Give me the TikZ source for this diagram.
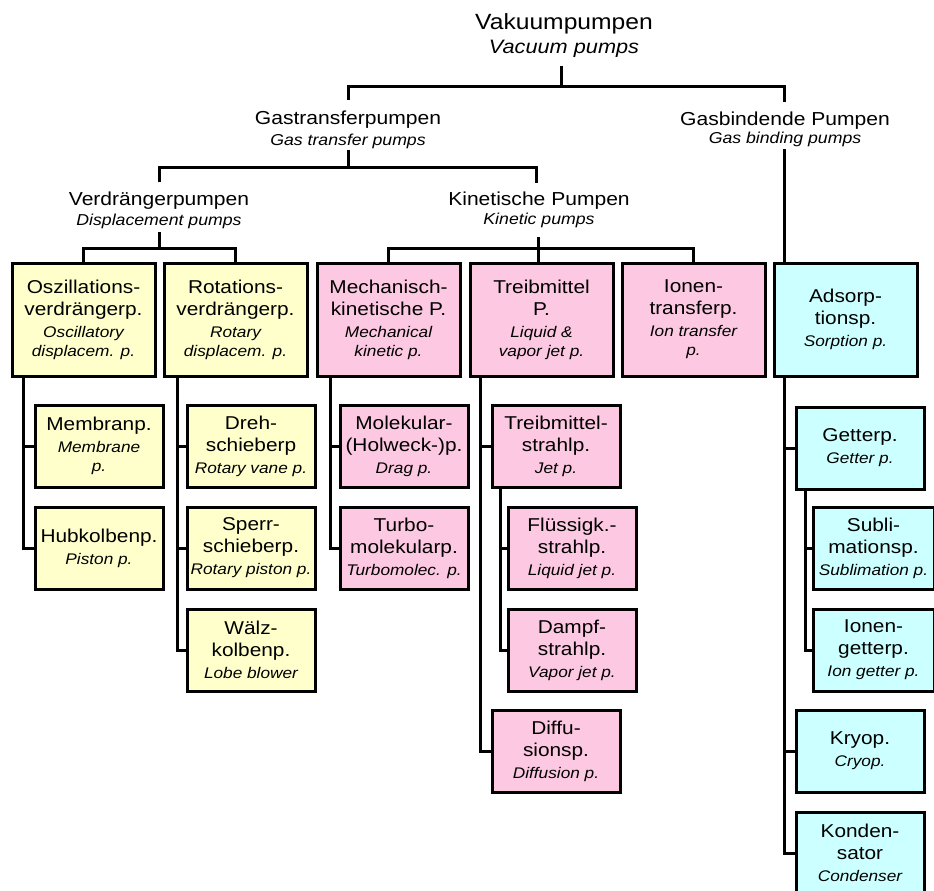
\documentclass[tikz,border=0pt]{standalone}
\usepackage{fontspec}
\setmainfont{Liberation Sans}[FakeStretch=1.12]
\definecolor{yel}{RGB}{255,255,204}
\definecolor{pnk}{RGB}{252,200,226}
\definecolor{cyn}{RGB}{204,255,255}
\newcommand\itfnt{\fontsize{15.4}{19}\selectfont\itshape\lineskiplimit=-100pt\relax}
\newcommand\mfnt{\fontsize{18.6}{22}\selectfont\upshape}
\begin{document}
\begin{tikzpicture}[x=1pt,y=-1pt,
  conn/.style={line width=3pt, line join=miter},
  bigbox/.style={draw, line width=3pt, anchor=north west, minimum width=143pt, minimum height=113pt, inner sep=0pt, outer sep=0pt, align=center, font=\itfnt},
  smallbox/.style={draw, line width=3pt, anchor=north west, minimum width=128pt, minimum height=82pt, inner sep=0pt, outer sep=0pt, align=center, font=\itfnt},
  lbl/.style={anchor=base, inner sep=0pt},
  de/.style={lbl, font=\fontsize{18.8}{22}\selectfont},
  en/.style={lbl, font=\fontsize{15.8}{19}\selectfont\itshape}]
\useasboundingbox (0,0) rectangle (934,891);
\fill[white] (0,0) rectangle (934,891);
\clip (0,0) rectangle (934,891);

% labels
\node[lbl, font=\fontsize{22}{26}\selectfont] (vakDE) at (564,30) {Vakuumpumpen};
\node[lbl, font=\fontsize{19.4}{22}\selectfont\itshape] (vakEN) at (564,54) {Vacuum pumps};
\node[de] (gtDE) at (348,124) {Gastransferpumpen};
\node[en] (gtEN) at (348,145) {Gas transfer pumps};
\node[de] (gbDE) at (785,125) {Gasbindende Pumpen};
\node[en] (gbEN) at (785,143) {Gas binding pumps};
\node[de] (vdDE) at (159,205) {Verdrängerpumpen};
\node[en] (vdEN) at (159,225) {Displacement pumps};
\node[de] (knDE) at (539,205) {Kinetische Pumpen};
\node[en] (knEN) at (539,224) {Kinetic pumps};

% first row boxes
\node[bigbox, fill=yel] (osz) at (12,263) {{\mfnt Oszillations-}\\[3pt]{\mfnt verdrängerp.}\\[3pt]Oscillatory\\displacem. p.};
\node[bigbox, fill=yel] (rot) at (164,263) {{\mfnt Rotations-}\\[3pt]{\mfnt verdrängerp.}\\[3pt]Rotary\\displacem. p.};
\node[bigbox, fill=pnk] (mech) at (317,263) {{\mfnt Mechanisch-}\\[3pt]{\mfnt kinetische P.}\\[3pt]Mechanical\\kinetic p.};
\node[bigbox, fill=pnk] (treib) at (470,263) {{\mfnt Treibmittel}\\[3pt]{\mfnt P.}\\[3pt]Liquid \&\\vapor jet p.};
\node[bigbox, fill=pnk] (ion) at (622,263) {{\mfnt Ionen-}\\[3pt]{\mfnt transferp.}\\[3pt]Ion transfer\\p.};
\node[bigbox, fill=cyn] (ads) at (774,263) {{\mfnt Adsorp-}\\[3pt]{\mfnt tionsp.}\\[3pt]Sorption p.};

% sub boxes
\node[smallbox, fill=yel] (memb) at (35,405) {{\mfnt Membranp.}\\[3pt]Membrane\\p.};
\node[smallbox, fill=yel] (hub) at (35,507) {{\mfnt Hubkolbenp.}\\[3pt]Piston p.};
\node[smallbox, fill=yel] (dreh) at (187,405) {{\mfnt Dreh-}\\[3pt]{\mfnt schieberp}\\[3pt]Rotary vane p.};
\node[smallbox, fill=yel] (sperr) at (187,507) {{\mfnt Sperr-}\\[3pt]{\mfnt schieberp.}\\[3pt]Rotary piston p.};
\node[smallbox, fill=yel] (walz) at (187,609) {{\mfnt Wälz-}\\[3pt]{\mfnt kolbenp.}\\[3pt]Lobe blower};
\node[smallbox, fill=pnk] (molek) at (340,405) {{\mfnt Molekular-}\\[3pt]{\mfnt (Holweck-)p.}\\[3pt]Drag p.};
\node[smallbox, fill=pnk] (turbo) at (340,507) {{\mfnt Turbo-}\\[3pt]{\mfnt molekularp.}\\[3pt]Turbomolec. p.};
\node[smallbox, fill=pnk] (tstrahl) at (492,405) {{\mfnt Treibmittel-}\\[3pt]{\mfnt strahlp.}\\[3pt]Jet p.};
\node[smallbox, fill=pnk] (fluess) at (508,507) {{\mfnt Flüssigk.-}\\[3pt]{\mfnt strahlp.}\\[3pt]Liquid jet p.};
\node[smallbox, fill=pnk] (dampf) at (508,609) {{\mfnt Dampf-}\\[3pt]{\mfnt strahlp.}\\[3pt]Vapor jet p.};
\node[smallbox, fill=pnk] (diff) at (492,710) {{\mfnt Diffu-}\\[3pt]{\mfnt sionsp.}\\[3pt]Diffusion p.};
\node[smallbox, fill=cyn] (getter) at (796,407) {{\mfnt Getterp.}\\[3pt]Getter p.};
\node[smallbox, fill=cyn, minimum width=121pt] (subl) at (813,507) {{\mfnt Subli-}\\[3pt]{\mfnt mationsp.}\\[3pt]Sublimation p.};
\node[smallbox, fill=cyn, minimum width=121pt] (iong) at (813,609) {{\mfnt Ionen-}\\[3pt]{\mfnt getterp.}\\[3pt]Ion getter p.};
\node[smallbox, fill=cyn] (kryo) at (796,710) {{\mfnt Kryop.}\\[3pt]Cryop.};
\node[smallbox, fill=cyn] (kond) at (796,812) {{\mfnt Konden-}\\[3pt]{\mfnt sator}\\[3pt]Condenser};

% top connectors
\coordinate (c0) at (561,66);  \coordinate (b0) at (561,86);
\coordinate (e1) at (348,100); \coordinate (e2) at (784,102);
\draw[conn] (c0) -- (b0);
\draw[conn] (e1) |- (b0) -| (e2);

\coordinate (c1) at (348,150); \coordinate (b1) at (348,167);
\coordinate (e3) at (159,182); \coordinate (e4) at (536,183);
\draw[conn] (c1) -- (b1);
\draw[conn] (e3) |- (b1) -| (e4);

\coordinate (c2) at (784,149);
\draw[conn] (c2) -- (c2 |- ads.north);

\coordinate (c3) at (159,232); \coordinate (b3) at (159,248);
\draw[conn] (c3) -- (b3);
\draw[conn] (osz.north) |- (b3) -| (rot.north);

\coordinate (c4) at (538,237); \coordinate (b4) at (538,248);
\draw[conn] (c4) -- (c4 |- treib.north);
\draw[conn] (mech.north) |- (b4) -| (ion.north);

% sub connectors
\draw[conn] ([xshift=11pt]osz.south west) |- (memb.west);
\draw[conn] ([xshift=11pt]osz.south west) |- (hub.west);
\draw[conn] ([xshift=13pt]rot.south west) |- (dreh.west);
\draw[conn] ([xshift=13pt]rot.south west) |- (sperr.west);
\draw[conn] ([xshift=13pt]rot.south west) |- (walz.west);
\draw[conn] ([xshift=13pt]mech.south west) |- (molek.west);
\draw[conn] ([xshift=13pt]mech.south west) |- (turbo.west);
\draw[conn] ([xshift=10pt]treib.south west) |- (tstrahl.west);
\draw[conn] ([xshift=10pt]treib.south west) |- (diff.west);
\draw[conn] ([xshift=8pt]tstrahl.south west) |- (fluess.west);
\draw[conn] ([xshift=8pt]tstrahl.south west) |- (dampf.west);
\draw[conn] ([xshift=10pt]ads.south west) |- (getter.west);
\draw[conn] ([xshift=10pt]ads.south west) |- (kryo.west);
\draw[conn] ([xshift=10pt]ads.south west) |- (kond.west);
\draw[conn] ([xshift=9pt]getter.south west) |- (subl.west);
\draw[conn] ([xshift=9pt]getter.south west) |- (iong.west);
\end{tikzpicture}
\end{document}
